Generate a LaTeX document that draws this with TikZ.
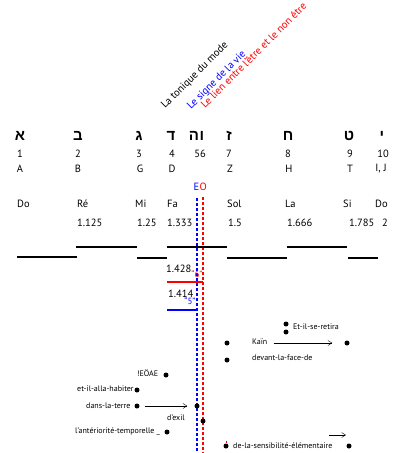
\documentclass[tikz,border=0pt]{standalone}
\usepackage{fontspec}
\setmainfont{PT Sans}
\newfontfamily\hebfont[Script=Hebrew]{Liberation Sans}
\TeXXeTstate=1
\usetikzlibrary{positioning,arrows.meta}

\begin{document}
\begin{tikzpicture}[
        x=1pt, y=-1pt,
        >={Straight Barb[length=4pt,width=5pt]},
        font=\fontsize{10.5}{12}\selectfont,
        % lettres hébraïques
        heb/.style={
            font=\hebfont\bfseries\fontsize{15}{17}\selectfont,
            inner sep=0pt
        },
        % petits textes centrés
        lbl/.style={inner sep=0pt},
        % texte posé sur sa ligne de base
        gamme/.style={inner sep=0pt, anchor=base west},
        % marches de la gamme
        degre/.style={line width=1.7pt},
        % axes verticaux en tirets
        axe/.style={line width=1.2pt, dash pattern=on 3pt off 2pt},
        % points du texte
        point/.style={circle, fill, inner sep=0pt, minimum size=5pt},
        mot/.style={font=\fontsize{8}{9}\selectfont, inner sep=0pt, anchor=west},
        % titres obliques
        titre/.style={
            rotate=45,
            anchor=base west,
            inner sep=0pt,
            font=\fontsize{10.5}{11}\selectfont
        }
    ]

    \useasboundingbox (0,0) rectangle (400,453);

    % --- 1. titres obliques ---
    \node (tonique) [titre] at (165,109) {La tonique du mode};
    \node (signe) [titre, text=blue] at (191,110) {Le signe de la vie};
    \node (lien) [titre, text=red] at (205,109) {Le lien entre l'être et le non être};

    % --- 2. lettres, nombres, lettres latines ---
    \foreach \x/\l [count=\i] in {20/א, 78/ב, 139/ג, 171/ד, 194/ה, 202/ו, 229/ז, 288/ח, 349/ט, 382/י}
        \node (heb\i) [heb] at (\x,136) {\beginR\l\endR};

    \foreach \x/\t [count=\i] in {20/1, 78/2, 139/3, 172/4, 200/56, 229/7, 288/8, 350/9, 383/10}
        \node (num\i) [lbl] at (\x,153.5) {\t};

    \foreach \x/\t [count=\i] in {20/A, 78/B, 140/G, 172/D, 230/Z, 289/H, 350/T, 381/{I, J}}
        \node (lat\i) [lbl] at (\x,168.5) {\t};

    % --- 3. EO et les deux axes ---
    \node (E) [lbl, text=blue, anchor=east] at (199.5,187) {E};
    \node (O) [lbl, text=red, anchor=west] at (199.5,187) {O};
    \coordinate (bleuHaut) at (197,198);
    \coordinate (bleuBas) at (197,453);
    \coordinate (rougeHaut) at (203,197);
    \coordinate (rougeBas) at (203,453);
    \draw[axe, draw=blue] (bleuHaut) -- (bleuBas);
    \draw[axe, draw=red] (rougeHaut) -- (rougeBas);

    % --- 4. notes et rapports ---
    \foreach \x/\t [count=\i] in {17/Do, 77/Ré, 135/Mi, 167/Fa, 227/Sol, 285/La, 343/Si, 375/Do}
        \node (note\i) [gamme] at (\x,207) {\t};

    \foreach \x/\t [count=\i] in {77/1.125, 137/1.25, 167/1.333, 228/1.5, 287/1.666, 349/1.785, 382/2}
        \node (rap\i) [gamme] at (\x,226) {\t};

    % marches
    \foreach \xa/\xb/\y in {17/77/257, 76/137/247, 137/167/258, 167/227/247, 227/287/258, 287/347/247, 348/378/258}
        \draw[degre] (\xa,\y) -- (\xb,\y);

    % sixte et quinte
    \node (sixte) [gamme] at (166,272) {1.428};
    \node (six) [lbl, text=red, font=\fontsize{9}{9}\selectfont] at (197,274) {“6”};
    \draw[degre, draw=red] (167,282) -- (203,282);
    \node (quinte) [gamme] at (168,297) {1.414};
    \node (cinq) [lbl, text=blue, font=\fontsize{9}{9}\selectfont] at (190,301) {“5”};
    \draw[degre, draw=blue] (167,310) -- (197,310);

    % --- 5. le verset ---
    \node (retiraA) [point] at (286,324) {};
    \node (retiraB) [point] at (286,332) {};
    \node (retira) [mot] at (293,327) {Et-il-se-retira};

    \node (kainG) [point] at (227,343) {};
    \node (kain) [mot] at (252,342) {Kaïn};
    \node (kainD) [point] at (347,343) {};
    \draw[->, shorten <=6pt, shorten >=12pt] (kain.east |- kainD) -- (kainD);

    \node (faceG) [point] at (227,360) {};
    \node (face) [mot] at (252,358) {devant-la-face-de};

    \node (ieoae) [mot] at (137,373) {!EÖAE};
    \node (ieoaeP) [point] at (166,375) {};

    \node (habiter) [mot] at (77,389) {et-il-alla-habiter};
    \node (habiterP) [point] at (137,390) {};

    \node (terre) [mot] at (86,406) {dans-la-terre};
    \node (terreP) [point] at (137,406) {};
    \node (terreE) [point] at (197,406) {};
    \draw[->, shorten <=5pt, shorten >=7pt] (terreP) -- (terreE);

    \node (exil) [mot] at (167,418) {d'exil};
    \node (exilP) [point] at (203,421) {};

    \node (anter) [mot] at (75,431) {l'antériorité-temporelle \_};
    \node (anterP) [point] at (167,432) {};

    \coordinate (flecheA) at (329,435);
    \coordinate (flecheB) at (346,435);
    \draw[->] (flecheA) -- (flecheB);

    \node (sensG) [point] at (226,446) {};
    \draw[draw=red, line width=0.6pt] (226,440.5) -- (226,442.5);
    \node (sens) [mot] at (233,446) {de-la-sensibilité-élémentaire};
    \node (sensD) [point] at (349,446) {};

\end{tikzpicture}
\end{document}
